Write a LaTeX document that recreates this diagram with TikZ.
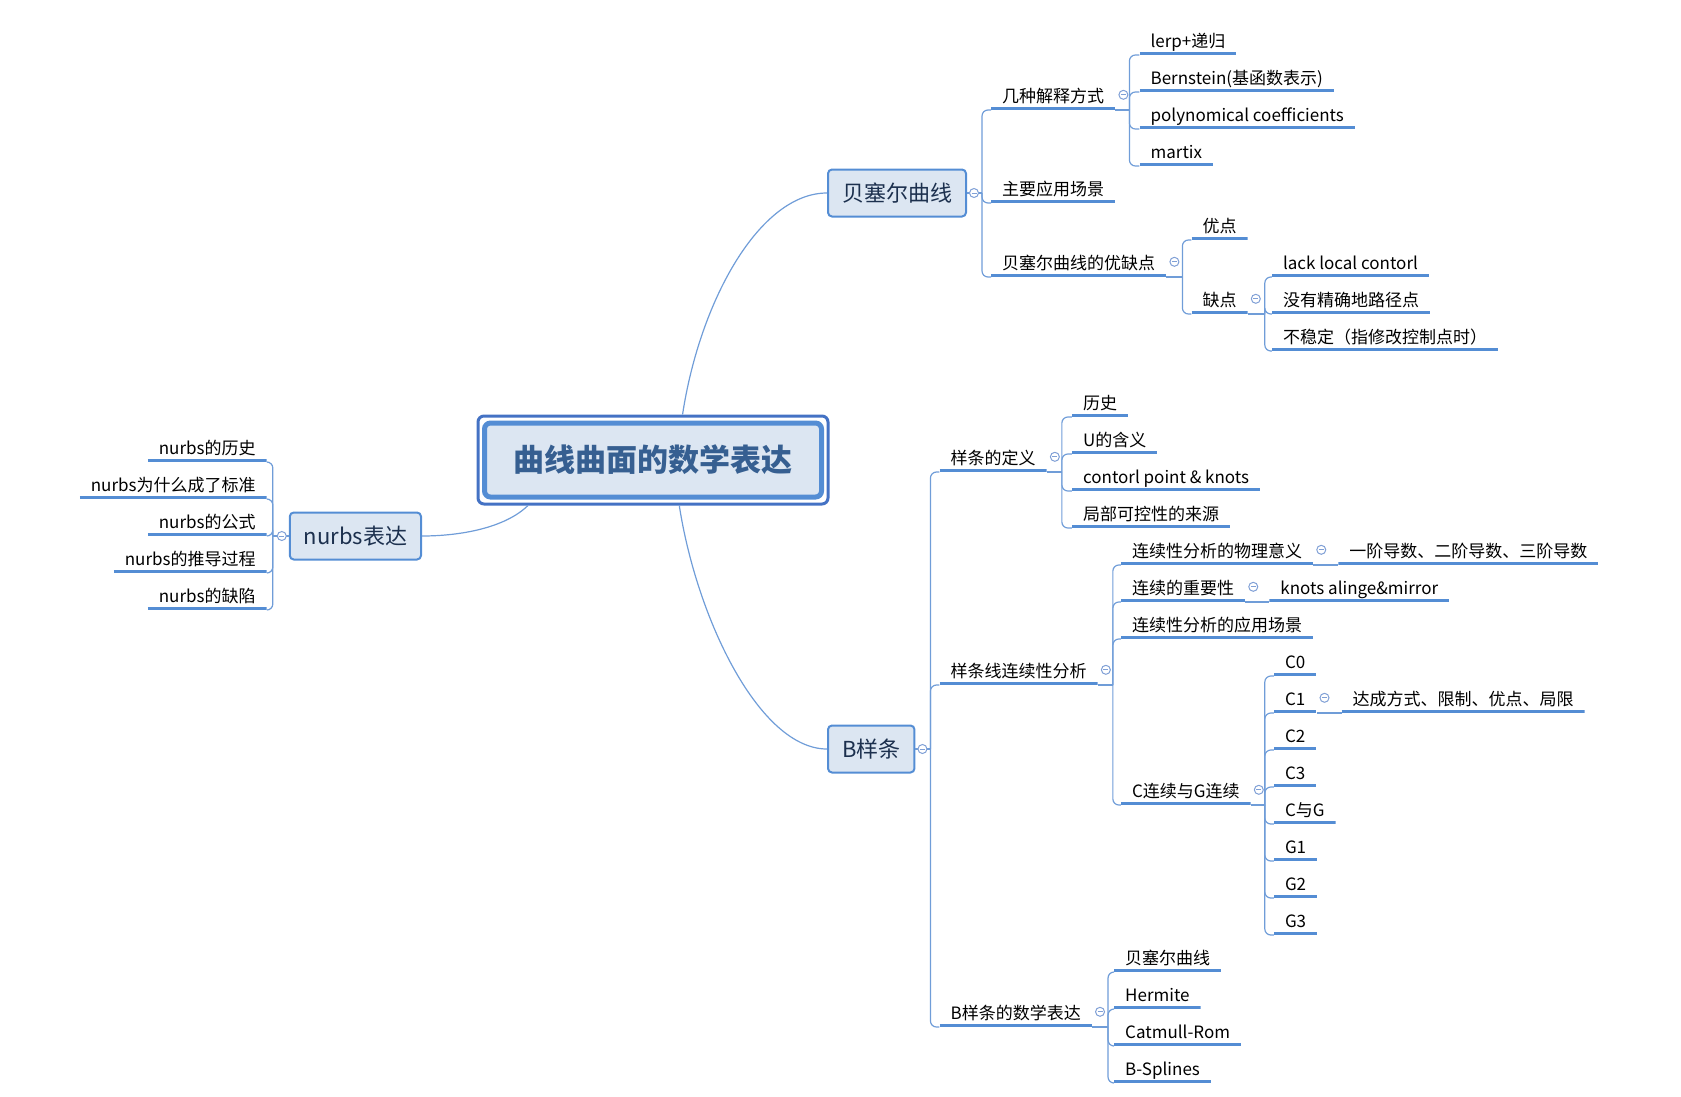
\documentclass[tikz,border=0pt]{standalone}
\usepackage{fontspec}
\setmainfont{Noto Sans CJK SC}
\usetikzlibrary{positioning}
\definecolor{uline}{RGB}{84,141,212}
\definecolor{thin}{RGB}{112,157,216}
\definecolor{boxfill}{RGB}{220,230,242}
\definecolor{rimblue}{RGB}{68,114,196}
\definecolor{rootblue}{RGB}{54,95,145}
\definecolor{topictext}{RGB}{28,48,78}
\definecolor{foldgray}{RGB}{128,160,214}

\begin{document}
\begin{tikzpicture}[x=1pt,y=-1pt,node distance=37pt,
    rim/.style={draw=rimblue,line width=3pt,rounded corners=6pt,minimum width=350pt,minimum height=88pt},
    root/.style={draw=uline,line width=5pt,fill=boxfill,rounded corners=6pt,minimum width=337pt,minimum height=74pt,
        text=rootblue,font=\bfseries\fontsize{31pt}{31pt}\selectfont},
    topic/.style={draw=uline,line width=2pt,fill=boxfill,rounded corners=4pt,minimum height=47pt,inner xsep=14pt,
        text=topictext,font=\fontsize{22pt}{22pt}\selectfont},
    leaf/.style={fill=white,inner xsep=11pt,inner ysep=4pt,text height=19pt,text depth=3pt,
        font=\fontsize{17pt}{17pt}\selectfont,
        path picture={\draw[uline,line width=6pt] (path picture bounding box.south west) -- (path picture bounding box.south east);}},
    belowof/.style={below=of #1.south west,anchor=south west},
    lbelowof/.style={below=of #1.south east,anchor=south east},
    link/.style={draw=thin,line width=1.2pt},
    br/.style={link,rounded corners=6pt,to path={|- (\tikztotarget)}},
    fold/.style={circle,draw=foldgray,fill=white,line width=1pt,inner sep=0pt,minimum size=9pt,
        path picture={\draw[foldgray,line width=1pt] ([xshift=-2.5pt]path picture bounding box.center) -- ([xshift=2.5pt]path picture bounding box.center);}}]

    \useasboundingbox (0,0) rectangle (1681,1097);

    \node[rim] (rim) at (653,460) {};
    \node[root] (root) at (rim) {曲线曲面的数学表达};
    \node[topic,anchor=west] (bez) at (827,193) {贝塞尔曲线};
    \node[topic,anchor=west] (bsp) at (827,749) {B样条};
    \node[topic,anchor=east] (nurbs) at (422,536) {nurbs表达};

    \coordinate[right=15pt of bez.east] (jBez);
    \node[leaf] (ways) [above right=83pt and 9pt of jBez,anchor=south west] {几种解释方式};
    \node[leaf] (apps) [below right=10pt and 9pt of jBez,anchor=south west] {主要应用场景};
    \node[leaf] (prosCons) [below right=84pt and 9pt of jBez,anchor=south west] {贝塞尔曲线的优缺点};
    \coordinate[right=14pt of ways.south east] (jWays);
    \node[leaf] (lerp) [above right=55pt and 10pt of jWays,anchor=south west] {lerp+递归};
    \node[leaf] (bern) [belowof=lerp] {Bernstein(基函数表示)};
    \node[leaf] (poly) [belowof=bern] {polynomical coefficients};
    \node[leaf] (martix) [belowof=poly] {martix};
    \coordinate[right=16pt of prosCons.south east] (jPC);
    \node[leaf] (pro) [above right=37pt and 9pt of jPC,anchor=south west] {优点};
    \node[leaf] (con) [below right=37pt and 9pt of jPC,anchor=south west] {缺点};
    \coordinate[right=17pt of con.south east] (jCon);
    \node[leaf] (lack) [above right=37pt and 7pt of jCon,anchor=south west] {lack local contorl};
    \node[leaf] (noPts) [belowof=lack] {没有精确地路径点};
    \node[leaf] (unstable) [belowof=noPts] {不稳定（指修改控制点时）};

    \coordinate[right=15pt of bsp.east] (jBsp);
    \node[leaf] (def) [above right=277pt and 9pt of jBsp,anchor=south west] {样条的定义};
    \node[leaf] (cont) [above right=64pt and 9pt of jBsp,anchor=south west] {样条线连续性分析};
    \node[leaf] (math) [below right=278pt and 9pt of jBsp,anchor=south west] {B样条的数学表达};
    \coordinate[right=15pt of def.south east] (jDef);
    \node[leaf] (hist) [above right=55pt and 10pt of jDef,anchor=south west] {历史};
    \node[leaf] (uMean) [belowof=hist] {U的含义};
    \node[leaf] (ctrl) [belowof=uMean] {contorl point \& knots};
    \node[leaf] (local) [belowof=ctrl] {局部可控性的来源};
    \coordinate[right=15pt of cont.south east] (jCont);
    \node[leaf] (phys) [above right=120pt and 8pt of jCont,anchor=south west] {连续性分析的物理意义};
    \node[leaf] (deriv) [right=25pt of phys.south east,anchor=south west] {一阶导数、二阶导数、三阶导数};
    \node[leaf] (imp) [belowof=phys] {连续的重要性};
    \node[leaf] (knots) [right=24pt of imp.south east,anchor=south west] {knots alinge\&mirror};
    \node[leaf] (use) [belowof=imp] {连续性分析的应用场景};
    \node[leaf] (cg) [below right=120pt and 8pt of jCont,anchor=south west] {C连续与G连续};
    \coordinate[right=14pt of cg.south east] (jCG);
    \node[leaf] (c0) [above right=129pt and 9pt of jCG,anchor=south west] {C0};
    \node[leaf] (c1) [belowof=c0] {C1};
    \node[leaf] (reach) [right=25pt of c1.south east,anchor=south west] {达成方式、限制、优点、局限};
    \node[leaf] (c2) [belowof=c1] {C2};
    \node[leaf] (c3) [belowof=c2] {C3};
    \node[leaf] (cAndG) [belowof=c3] {C与G};
    \node[leaf] (g1) [belowof=cAndG] {G1};
    \node[leaf] (g2) [belowof=g1] {G2};
    \node[leaf] (g3) [belowof=g2] {G3};
    \coordinate[right=16pt of math.south east] (jMath);
    \node[leaf] (bez2) [above right=55pt and 6pt of jMath,anchor=south west] {贝塞尔曲线};
    \node[leaf] (herm) [belowof=bez2] {Hermite};
    \node[leaf] (catm) [belowof=herm] {Catmull-Rom};
    \node[leaf] (bspl) [belowof=catm] {B-Splines};

    \coordinate[left=16pt of nurbs.west] (jNurbs);
    \node[leaf] (nHist) [above left=74pt and 6pt of jNurbs,anchor=south east] {nurbs的历史};
    \node[leaf] (nStd) [lbelowof=nHist] {nurbs为什么成了标准};
    \node[leaf] (nForm) [lbelowof=nStd] {nurbs的公式};
    \node[leaf] (nDeriv) [lbelowof=nForm] {nurbs的推导过程};
    \node[leaf] (nFlaw) [lbelowof=nDeriv] {nurbs的缺陷};

    \draw[link] (rim.57) .. controls (700,300) and (760,193) .. (bez.west);
    \draw[link] (rim.-60) .. controls (697,620) and (760,749) .. (bsp.west);
    \draw[link] (rim.-160) .. controls (505,528) and (460,536) .. (nurbs.east);

    \path[link]
    (bez) edge (jBez)
    (bsp) edge (jBsp)
    (nurbs) edge (jNurbs)
    (ways.south east) edge (jWays)
    (prosCons.south east) edge (jPC)
    (con.south east) edge (jCon)
    (def.south east) edge (jDef)
    (cont.south east) edge (jCont)
    (cg.south east) edge (jCG)
    (math.south east) edge (jMath)
    (phys.south east) edge (deriv.south west)
    (imp.south east) edge (knots.south west)
    (c1.south east) edge (reach.south west);

    \path[br]
    (jBez) edge (ways.south west)
    edge (apps.south west)
    edge (prosCons.south west)
    (jWays) edge (lerp.south west)
    edge (bern.south west)
    edge (poly.south west)
    edge (martix.south west)
    (jPC) edge (pro.south west)
    edge (con.south west)
    (jCon) edge (lack.south west)
    edge (noPts.south west)
    edge (unstable.south west)
    (jBsp) edge (def.south west)
    edge (cont.south west)
    edge (math.south west)
    (jDef) edge (hist.south west)
    edge (uMean.south west)
    edge (ctrl.south west)
    edge (local.south west)
    (jCont) edge (phys.south west)
    edge (imp.south west)
    edge (use.south west)
    edge (cg.south west)
    (jCG) edge (c0.south west)
    edge (c1.south west)
    edge (c2.south west)
    edge (c3.south west)
    edge (cAndG.south west)
    edge (g1.south west)
    edge (g2.south west)
    edge (g3.south west)
    (jMath) edge (bez2.south west)
    edge (herm.south west)
    edge (catm.south west)
    edge (bspl.south west)
    (jNurbs) edge (nHist.south east)
    edge (nStd.south east)
    edge (nForm.south east)
    edge (nDeriv.south east)
    edge (nFlaw.south east);

    \node[fold] (fBez) [right=2pt of bez.east] {};
    \node[fold] (fBsp) [right=2pt of bsp.east] {};
    \node[fold] (fNurbs) [left=2pt of nurbs.west] {};
    \node[fold] (fWays) [right=3pt of ways.east] {};
    \node[fold] (fPC) [right=3pt of prosCons.east] {};
    \node[fold] (fCon) [right=3pt of con.east] {};
    \node[fold] (fDef) [right=3pt of def.east] {};
    \node[fold] (fCont) [right=3pt of cont.east] {};
    \node[fold] (fPhys) [right=3pt of phys.east] {};
    \node[fold] (fImp) [right=3pt of imp.east] {};
    \node[fold] (fCG) [right=3pt of cg.east] {};
    \node[fold] (fC1) [right=3pt of c1.east] {};
    \node[fold] (fMath) [right=3pt of math.east] {};

\end{tikzpicture}
\end{document}
